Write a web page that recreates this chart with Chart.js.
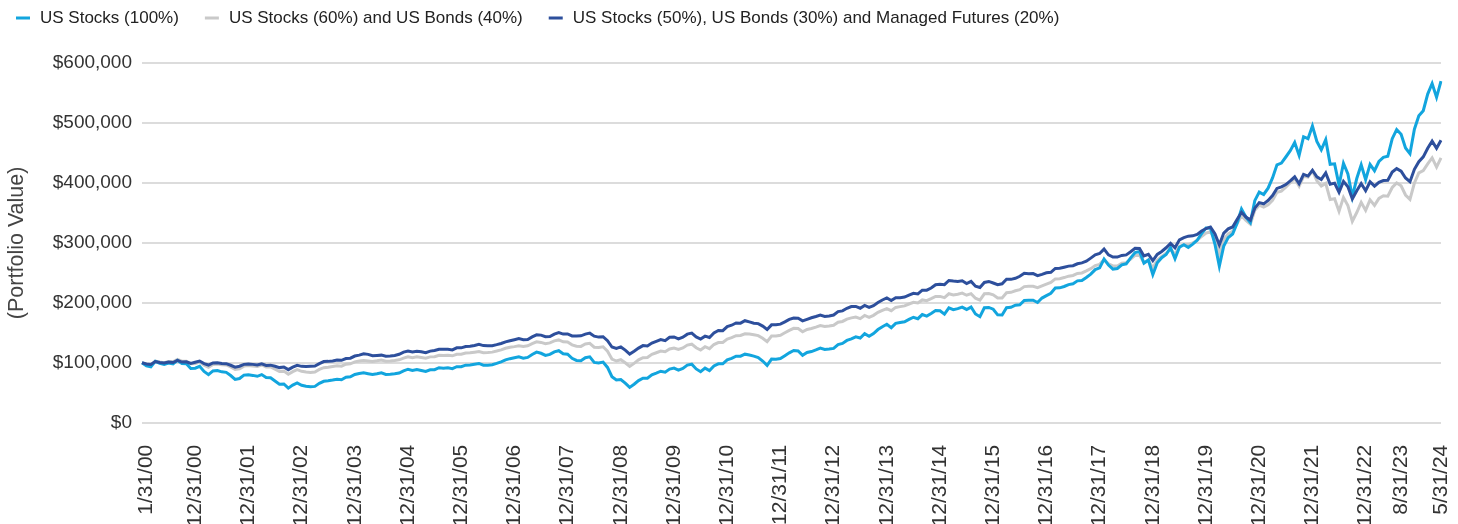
<!DOCTYPE html>
<html>
<head>
<meta charset="utf-8">
<script src="https://cdn.jsdelivr.net/npm/chart.js@4.4.1/dist/chart.umd.min.js"></script>
<style>
  html, body { margin: 0; padding: 0; background: #fff; }
  #wrap { width: 1458px; height: 524px; }
</style>
</head>
<body>
<div id="wrap"><canvas id="chart" width="1458" height="524"></canvas></div>
<script>
// month-end dates 12/31/99 .. 5/31/24
function monthEnd(y, m) {
  const d = new Date(y, m, 0).getDate();
  return m + '/' + d + '/' + String(y % 100).padStart(2, '0');
}
const months = [monthEnd(1999, 12)];
for (let y = 2000; y <= 2024; y++) {
  for (let m = 1; m <= 12; m++) {
    if (y === 2024 && m > 5) break;
    months.push(monthEnd(y, m));
  }
}

// only these dates get a label on the x axis
const shownTicks = ['1/31/00', '12/31/00', '12/31/01', '12/31/02', '12/31/03', '12/31/04', '12/31/05',
  '12/31/06', '12/31/07', '12/31/08', '12/31/09', '12/31/10', '12/31/11', '12/31/12', '12/31/13',
  '12/31/14', '12/31/15', '12/31/16', '12/31/17', '12/31/18', '12/31/19', '12/31/20', '12/31/21',
  '12/31/22', '8/31/23', '5/31/24'];

const seriesNames = [
  'US Stocks (100%)',
  'US Stocks (60%) and US Bonds (40%)',
  'US Stocks (50%), US Bonds (30%) and Managed Futures (20%)'
];
const seriesColors = ['#12a5de', '#c9c9c9', '#2d4f9c'];

// portfolio value, $ thousands
const stocks = [100.0,
  95.0, 93.2, 102.3, 99.2, 97.2, 99.6, 98.0, 104.1, 98.6, 98.2, 90.5, 90.9,
  94.1, 85.5, 80.1, 86.3, 86.9, 84.8, 84.0, 78.7, 72.3, 73.7, 79.4, 80.1,
  78.9, 77.4, 80.3, 75.4, 74.9, 69.6, 64.2, 64.6, 57.6, 62.7, 66.4, 62.5,
  60.9, 60.0, 60.6, 65.6, 69.0, 69.9, 71.1, 72.5, 71.7, 75.8, 76.5, 80.5,
  82.0, 83.1, 81.8, 80.5, 81.6, 83.2, 80.4, 80.7, 81.6, 82.9, 86.3, 89.2,
  87.0, 88.8, 87.2, 85.6, 88.3, 88.4, 91.7, 90.9, 91.6, 90.1, 93.5, 93.5,
  96.0, 96.3, 97.5, 98.8, 95.9, 96.0, 96.6, 98.9, 101.5, 104.8, 106.8, 108.3,
  109.9, 107.7, 108.9, 113.7, 117.7, 115.8, 112.2, 113.9, 118.2, 120.1, 115.1, 114.3,
  107.4, 103.9, 103.5, 108.5, 109.9, 100.6, 99.8, 101.2, 92.2, 76.7, 71.2, 72.0,
  65.9, 58.9, 64.1, 70.2, 74.1, 74.3, 79.9, 82.8, 85.9, 84.3, 89.4, 91.1,
  87.8, 90.5, 96.0, 97.5, 89.7, 85.0, 91.0, 86.9, 94.6, 98.2, 98.2, 104.8,
  107.3, 111.0, 111.0, 114.3, 113.0, 111.1, 108.8, 102.9, 95.7, 106.2, 105.9, 107.0,
  111.8, 116.6, 120.5, 119.7, 112.5, 117.1, 118.7, 121.4, 124.5, 122.2, 122.9, 124.0,
  130.4, 132.2, 137.2, 139.8, 143.1, 141.2, 148.4, 144.1, 148.6, 155.4, 160.1, 164.2,
  158.5, 165.7, 167.1, 168.3, 172.3, 175.9, 173.5, 180.4, 177.9, 182.2, 187.1, 186.6,
  181.0, 191.4, 188.4, 190.2, 192.7, 188.9, 192.9, 181.3, 176.8, 191.7, 192.3, 189.3,
  179.9, 179.7, 191.9, 192.6, 196.1, 196.6, 203.9, 204.2, 204.2, 200.5, 207.9, 212.0,
  216.0, 224.6, 224.9, 227.2, 230.4, 231.8, 236.6, 237.3, 242.2, 247.8, 255.4, 258.2,
  273.0, 262.9, 256.2, 257.2, 263.4, 265.0, 274.9, 283.9, 285.5, 266.0, 271.4, 246.9,
  266.7, 275.3, 280.6, 292.0, 273.5, 292.8, 297.0, 292.3, 297.8, 304.3, 315.3, 324.8,
  324.7, 298.0, 261.2, 294.7, 308.7, 314.8, 332.6, 356.5, 343.0, 333.9, 370.4, 384.6,
  380.7, 391.2, 408.3, 430.1, 433.1, 443.2, 453.7, 467.5, 445.8, 477.0, 473.7, 494.9,
  469.3, 455.3, 472.2, 431.0, 431.8, 396.2, 432.7, 415.0, 376.8, 407.3, 430.1, 405.3,
  430.8, 420.3, 435.7, 442.5, 444.4, 473.8, 489.0, 481.2, 458.2, 448.6, 489.6, 511.8,
  520.4, 548.2, 565.8, 542.7, 569.6];

const stocksBonds = [100.0,
  97.4, 96.6, 102.6, 101.1, 100.2, 102.1, 101.5, 105.6, 102.6, 102.7, 98.2, 98.8,
  101.2, 95.9, 92.5, 97.1, 97.8, 96.6, 96.3, 93.0, 88.7, 90.0, 94.4, 95.2,
  94.7, 93.9, 96.3, 93.1, 93.0, 89.3, 85.4, 86.0, 80.7, 85.2, 88.5, 85.7,
  84.5, 83.9, 84.5, 88.8, 91.7, 92.5, 93.6, 94.8, 94.3, 97.6, 98.3, 101.5,
  102.8, 103.8, 103.0, 102.2, 103.2, 104.5, 102.6, 103.0, 103.8, 104.9, 107.6, 110.0,
  108.5, 109.9, 108.8, 107.7, 109.8, 110.0, 112.5, 112.0, 112.6, 111.6, 114.2, 114.3,
  116.3, 116.6, 117.6, 118.7, 116.8, 117.1, 117.7, 119.5, 121.5, 124.1, 125.7, 126.9,
  128.3, 127.1, 128.2, 131.9, 134.9, 133.9, 131.7, 133.2, 136.5, 138.1, 134.9, 134.6,
  129.9, 127.5, 127.3, 131.2, 132.4, 125.9, 125.4, 126.6, 119.2, 106.1, 102.9, 105.1,
  100.0, 93.8, 98.9, 104.8, 108.5, 108.8, 114.0, 116.7, 119.5, 118.4, 122.9, 124.6,
  122.2, 124.7, 129.5, 131.0, 125.0, 121.3, 126.7, 123.5, 130.4, 133.6, 133.9, 139.5,
  141.8, 145.1, 145.5, 148.4, 147.8, 146.7, 145.3, 140.9, 135.3, 144.5, 144.7, 145.9,
  150.0, 154.1, 157.4, 157.0, 151.6, 155.6, 157.1, 159.4, 162.1, 160.5, 161.3, 162.4,
  167.5, 168.9, 172.8, 174.9, 176.1, 173.6, 178.9, 175.8, 179.1, 184.1, 187.5, 190.4,
  186.8, 192.3, 193.6, 194.9, 198.0, 200.9, 199.6, 204.8, 203.5, 206.9, 210.6, 210.7,
  208.7, 215.1, 213.1, 214.4, 216.1, 212.6, 215.3, 207.6, 204.6, 215.0, 215.4, 213.4,
  208.2, 208.2, 216.8, 217.5, 220.0, 221.9, 227.0, 227.4, 227.6, 225.3, 228.2, 231.1,
  234.0, 239.9, 240.3, 242.1, 244.4, 245.6, 249.0, 249.8, 253.2, 257.0, 262.0, 264.1,
  272.0, 265.0, 261.6, 261.4, 265.9, 266.9, 272.9, 279.0, 279.2, 266.9, 270.8, 258.1,
  271.2, 277.2, 282.5, 289.7, 280.7, 294.0, 296.8, 297.1, 299.8, 304.1, 310.7, 316.2,
  318.5, 305.1, 281.8, 305.5, 314.8, 319.3, 332.0, 345.2, 337.3, 331.3, 354.4, 362.8,
  359.5, 363.4, 371.1, 384.2, 386.3, 392.8, 400.2, 407.2, 394.4, 411.0, 409.8, 420.4,
  403.8, 394.8, 399.2, 372.3, 373.7, 352.8, 375.8, 362.3, 336.0, 350.6, 367.5, 354.1,
  371.8, 362.5, 374.2, 378.6, 377.9, 392.4, 399.9, 395.1, 379.8, 372.6, 399.8, 416.8,
  420.6, 431.7, 441.6, 426.3, 441.9];

const withFutures = [100.0,
  97.9, 97.1, 101.9, 100.3, 99.5, 101.2, 100.4, 104.0, 101.1, 101.5, 98.8, 100.9,
  102.9, 98.5, 96.2, 99.6, 100.1, 98.9, 98.5, 95.8, 92.7, 94.2, 97.3, 98.0,
  97.3, 96.4, 98.1, 95.6, 96.0, 94.2, 91.9, 93.0, 88.5, 92.6, 95.6, 94.0,
  93.8, 94.3, 94.5, 98.5, 102.0, 102.3, 103.1, 104.4, 104.0, 107.0, 107.6, 111.2,
  112.7, 115.0, 114.0, 111.8, 112.2, 112.7, 111.0, 111.1, 112.2, 114.1, 117.7, 119.5,
  118.0, 119.2, 118.3, 116.7, 119.4, 120.4, 122.5, 122.4, 122.6, 121.5, 124.9, 124.9,
  127.2, 127.4, 128.9, 130.8, 128.6, 128.4, 128.5, 130.2, 132.2, 134.9, 136.7, 138.4,
  140.2, 138.4, 138.9, 143.2, 146.6, 146.1, 143.4, 143.6, 147.8, 150.4, 147.8, 148.1,
  144.7, 144.8, 144.9, 147.7, 149.4, 144.4, 142.8, 143.4, 136.7, 126.2, 123.9, 126.4,
  121.0, 114.5, 119.2, 124.4, 128.6, 128.1, 132.9, 135.8, 138.8, 136.9, 142.6, 143.1,
  139.9, 142.6, 147.7, 149.4, 143.1, 139.6, 144.4, 142.2, 149.6, 153.9, 153.5, 160.4,
  162.6, 166.3, 166.0, 170.1, 168.1, 166.0, 165.3, 161.1, 155.4, 163.2, 163.3, 164.4,
  168.2, 172.3, 174.6, 174.2, 169.8, 172.5, 175.1, 177.2, 179.5, 177.3, 178.1, 179.6,
  185.4, 186.5, 190.8, 193.7, 194.0, 191.0, 195.7, 192.5, 195.3, 200.4, 204.7, 208.0,
  203.7, 208.5, 208.6, 209.5, 212.9, 215.8, 214.7, 221.0, 221.1, 224.6, 230.2, 231.1,
  230.3, 237.2, 236.3, 235.6, 236.7, 232.2, 235.7, 227.7, 225.6, 234.0, 235.6, 233.0,
  230.1, 231.7, 239.2, 239.1, 240.9, 244.3, 249.4, 248.6, 248.8, 245.2, 247.5, 250.1,
  250.9, 257.4, 257.6, 259.4, 261.2, 261.9, 265.1, 266.6, 269.3, 274.5, 279.9, 282.2,
  289.6, 280.0, 276.3, 276.2, 279.0, 279.9, 285.1, 290.9, 290.6, 278.2, 281.0, 270.4,
  280.7, 285.7, 291.8, 299.1, 291.8, 305.0, 308.6, 311.1, 311.7, 314.2, 319.8, 323.9,
  326.4, 315.4, 296.8, 316.3, 323.3, 326.5, 338.8, 350.9, 343.1, 338.0, 357.9, 367.1,
  365.1, 370.8, 379.0, 390.8, 393.4, 397.2, 403.3, 410.1, 398.6, 414.1, 411.4, 421.1,
  410.1, 405.8, 416.5, 397.8, 399.6, 384.4, 402.6, 393.4, 373.3, 387.0, 399.0, 387.0,
  401.9, 394.6, 401.0, 404.0, 404.4, 418.1, 423.9, 419.7, 408.2, 402.0, 422.6, 435.3,
  443.4, 457.7, 469.6, 457.8, 471.0];

const yTicks = [0, 100, 200, 300, 400, 500, 600];

const FONT = '"Liberation Sans", Arial, sans-serif';

// legend row across the top, drawn on the canvas
const topLegend = {
  id: 'topLegend',
  afterDraw(chart) {
    const ctx = chart.ctx;
    ctx.save();
    ctx.font = '17px ' + FONT;
    ctx.textBaseline = 'middle';
    let x = 16;
    seriesNames.forEach((name, i) => {
      ctx.fillStyle = seriesColors[i];
      ctx.fillRect(x, 16.5, 14, 3);
      ctx.fillStyle = '#222';
      ctx.fillText(name, x + 24, 18);
      x += 24 + ctx.measureText(name).width + 26;
    });
    ctx.restore();
  }
};

function line(label, data, color, order) {
  return {
    label: label,
    data: data,
    borderColor: color,
    backgroundColor: color,
    borderWidth: 3,
    pointRadius: 0,
    pointHoverRadius: 0,
    tension: 0,
    fill: false,
    order: order
  };
}

new Chart(document.getElementById('chart'), {
  type: 'line',
  data: {
    labels: months,
    datasets: [
      line(seriesNames[0], stocks, seriesColors[0], 1),
      line(seriesNames[1], stocksBonds, seriesColors[1], 2),
      line(seriesNames[2], withFutures, seriesColors[2], 0)
    ]
  },
  options: {
    responsive: false,
    animation: false,
    devicePixelRatio: 1,
    layout: { padding: { top: 63, right: 17, left: 0, bottom: 0 } },
    plugins: {
      legend: { display: false },
      tooltip: { enabled: false }
    },
    scales: {
      x: {
        type: 'category',
        offset: false,
        grid: { display: false, drawTicks: false },
        border: { display: false },
        ticks: {
          autoSkip: false,
          maxRotation: 90,
          minRotation: 90,
          padding: 22,
          color: '#333',
          font: { family: FONT, size: 21 },
          callback: function (value) {
            const lbl = this.getLabelForValue(value);
            return shownTicks.includes(lbl) ? lbl : '';
          }
        },
        afterFit: function (scale) {
          scale.height = 101.3;
          scale.paddingLeft = 0;
          scale.paddingRight = 0;
        }
      },
      y: {
        min: 0,
        max: 600,
        afterBuildTicks: function (scale) {
          scale.ticks = yTicks.map(v => ({ value: v }));
        },
        grid: { color: '#dcdcdc', lineWidth: 2, drawTicks: false },
        border: { display: false },
        ticks: {
          padding: 10,
          color: '#333',
          font: { family: FONT, size: 19 },
          callback: v => '$' + (v * 1000).toLocaleString('en-US')
        },
        title: {
          display: true,
          text: '(Portfolio Value)',
          color: '#444',
          font: { family: FONT, size: 21.5 },
          padding: { top: 4, bottom: 4 }
        },
        afterFit: function (scale) { scale.width = 142; }
      }
    }
  },
  plugins: [topLegend]
});
</script>
</body>
</html>
